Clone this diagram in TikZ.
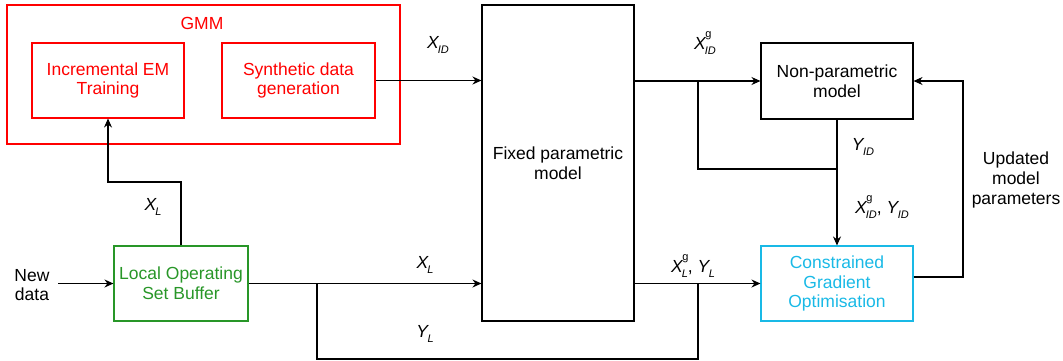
\documentclass[tikz,border=0pt]{standalone}
\usepackage{fontspec}
\setmainfont{Liberation Sans}
\usetikzlibrary{arrows.meta}
\definecolor{gmmred}{RGB}{255,0,0}
\definecolor{losgreen}{RGB}{40,150,40}
\definecolor{cgocyan}{RGB}{25,185,230}
\newcommand\smallsz{\fontsize{11}{12}\selectfont}
\newcommand\vsub[2]{\textit{#1}\kern-1.5pt\raisebox{-0.5ex}{\smallsz\itshape #2}}
\newcommand\vsubsup[3]{\textit{#1}\kern-1pt\rlap{\raisebox{1.3ex}{\smallsz #3}}\kern-0.5pt\raisebox{-0.5ex}{\smallsz\itshape #2}}
\begin{document}
\begin{tikzpicture}[x=1pt,y=-1pt,
  every node/.style={font=\fontsize{17.5}{19.7}\selectfont, align=center, inner sep=0pt},
  box/.style={draw, line width=1.1pt, rectangle},
  conn/.style={line width=1.1pt},
  arr/.style={line width=1.1pt, -{Stealth[length=9pt,width=8pt]}},
  lab/.style={font=\fontsize{17.5}{19.7}\selectfont}
]
\useasboundingbox (0,0) rectangle (1063,360);
% GMM
\node[box, draw=gmmred, minimum width=393pt, minimum height=139pt] (gmm) at (203.5,74.5) {};
\node[text=gmmred] (gmmlab) at (202,23) {GMM};
\node[box, draw=gmmred, text=gmmred, minimum width=152pt, minimum height=75pt] (em) at (108,80.5) {Incremental EM\\Training};
\node[box, draw=gmmred, text=gmmred, minimum width=153pt, minimum height=75pt] (syn) at (298.5,80.5) {Synthetic data\\generation};
% Main blocks
\node[box, minimum width=152pt, minimum height=316pt] (fixed) at (558,163) {Fixed parametric\\model};
\node[box, minimum width=152pt, minimum height=76pt] (np) at (837,81) {Non-parametric\\model};
\node[box, draw=cgocyan, text=cgocyan, minimum width=152pt, minimum height=75pt] (cgo) at (837,283.5) {Constrained\\Gradient\\Optimisation};
\node[box, draw=losgreen, text=losgreen, minimum width=134pt, minimum height=75pt] (losb) at (181,283.5) {Local Operating\\Set Buffer};
\node (newdata) at (32,285) {New\\data};
% coordinates
\coordinate (nd) at (58,283.5);
\coordinate (b1) at (698,81);
\coordinate (b1d) at (698,169);
\coordinate (j1) at (837,169);
\coordinate (b2) at (317,283.5);
\coordinate (b2d) at (317,359);
\coordinate (b3d) at (698,359);
\coordinate (b3) at (698,283.5);
\coordinate (fbr) at (963,277);
\coordinate (fbt) at (963,81);
\coordinate (xl1) at (181,182);
\coordinate (xl2) at (108,182);
% connectors
\draw[arr] (syn.east) -- (syn.east -| fixed.west);
\draw[arr] (fixed.east |- np.west) -- (np.west);
\draw[conn] (b1) -- (b1d) -- (j1);
\draw[arr] (np.south) -- (cgo.north);
\draw[arr] (nd) -- (losb.west);
\draw[arr] (losb.east) -- (losb.east -| fixed.west);
\draw[conn] (b2) -- (b2d) -- (b3d) -- (b3);
\draw[arr] (fixed.east |- cgo.west) -- (cgo.west);
\draw[arr] (cgo.east |- fbr) -- (fbr) -- (fbt) -- (np.east);
\draw[arr] (losb.north) -- (xl1) -- (xl2) -- (em.south);
% labels
\node[lab] (lxid) at (438,45) {\vsub{X}{ID}};
\node[lab] (lxidg) at (705,43) {\vsubsup{X}{ID}{g}};
\node[lab] (lyid) at (863,147) {\vsub{Y}{ID}};
\node[lab] (lxgy) at (882,207) {\vsubsup{X}{ID}{g}, \vsub{Y}{ID}};
\node[lab] (lxl1) at (153,207) {\vsub{X}{L}};
\node[lab] (lxl2) at (425,265) {\vsub{X}{L}};
\node[lab] (lyl) at (425,334) {\vsub{Y}{L}};
\node[lab] (lxgyl) at (693,266) {\vsubsup{X}{L}{g}, \vsub{Y}{L}};
\node (upd) at (1016,180) {Updated\\model\\parameters};
\end{tikzpicture}
\end{document}
